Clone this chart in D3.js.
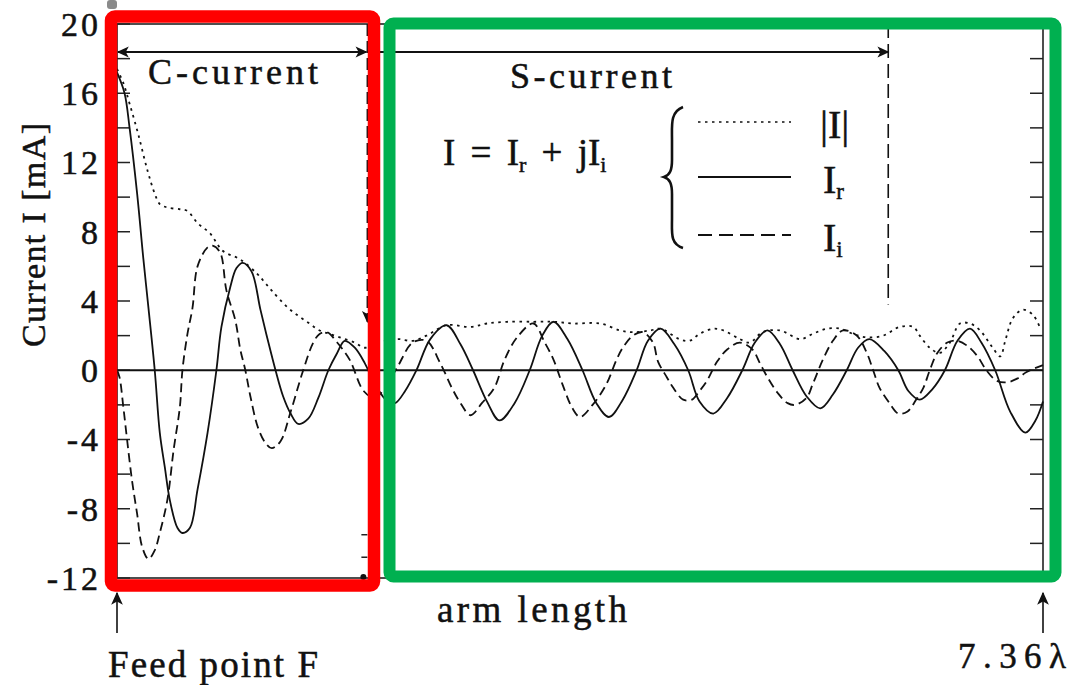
<!DOCTYPE html>
<html>
<head>
  <style>
  body {
    margin: 0;
    background: #fff;
  }
  svg text {
    font-family: "Liberation Serif", "Times New Roman", Times, serif;
    fill: #111;
    stroke: #111;
    stroke-width: 0.5px;
  }
  .curve {
    fill: none;
    stroke: #111;
    stroke-width: 1.8px;
  }
  </style>
</head>
<body>
  <script src="https://d3js.org/d3.v7.min.js"></script>
  <script>
  // arm position in wavelengths, current in mA
  var realCurrent = [
    [0,17.2],[0.06,16.0],[0.10,14.0],[0.16,10.2],[0.21,6.4],[0.25,3.6],[0.30,0],[0.34,-3.6],
    [0.38,-5.6],[0.42,-7.5],[0.48,-9.1],[0.52,-9.4],[0.58,-9.1],[0.64,-6.9],[0.72,-3.6],[0.79,0],
    [0.83,2.5],[0.90,4.8],[0.95,5.9],[1.00,6.2],[1.07,5.7],[1.14,3.5],[1.20,1.7],[1.26,0],
    [1.32,-1.5],[1.38,-2.5],[1.44,-3.1],[1.52,-2.8],[1.60,-1.6],[1.68,0],[1.75,1.0],[1.81,1.7],
    [1.89,1.3],[1.97,0.4],[2.05,-0.8],[2.15,-1.8],[2.21,-1.9],[2.29,-1.2],[2.38,0],[2.49,1.8],
    [2.62,2.6],[2.73,1.5],[2.83,0],[2.94,-1.8],[3.04,-2.9],[3.16,-1.9],[3.28,0],[3.38,2.0],
    [3.47,2.8],[3.58,1.8],[3.70,0],[3.81,-1.9],[3.91,-2.7],[4.02,-1.7],[4.13,0],[4.22,1.7],
    [4.32,2.4],[4.43,1.5],[4.54,0],[4.63,-1.8],[4.74,-2.5],[4.85,-1.6],[4.97,0],[5.07,1.6],
    [5.17,2.3],[5.27,1.5],[5.37,0],[5.48,-1.5],[5.59,-2.2],[5.69,-1.4],[5.80,0],[5.89,1.3],
    [5.98,1.8],[6.10,1.1],[6.21,0],[6.29,-1.2],[6.38,-1.7],[6.48,-1.1],[6.58,0],[6.68,1.7],
    [6.78,2.4],[6.87,1.6],[6.98,0],[7.10,-2.4],[7.22,-3.6],[7.30,-2.9],[7.36,-1.8]
  ];

  var imagCurrent = [
    [0,0],[0.02,-0.4],[0.05,-2.1],[0.08,-4.0],[0.12,-6.4],[0.16,-8.3],[0.20,-10.2],[0.25,-10.9],
    [0.30,-10.4],[0.34,-9.4],[0.40,-7.5],[0.45,-4.6],[0.50,-2.1],[0.52,0],[0.56,2.1],[0.60,3.6],
    [0.64,6.0],[0.72,7.1],[0.76,7.2],[0.82,6.8],[0.87,4.6],[0.94,2.9],[0.98,1.2],[1.02,0],
    [1.06,-1.5],[1.12,-3.3],[1.18,-4.2],[1.23,-4.5],[1.30,-4.1],[1.38,-2.4],[1.48,0],[1.56,1.6],
    [1.61,2.1],[1.67,2.2],[1.75,1.6],[1.85,0.6],[1.96,-1.2],[2.05,-1.6],[2.13,-1.0],[2.23,0.2],
    [2.35,1.6],[2.46,1.7],[2.57,0.4],[2.66,-1.0],[2.73,-1.9],[2.81,-2.6],[2.90,-1.9],[3.00,-1.0],
    [3.08,0.6],[3.18,1.9],[3.31,2.7],[3.40,1.6],[3.47,0.6],[3.54,-0.8],[3.62,-2.2],[3.68,-2.7],
    [3.78,-2.0],[3.89,-0.8],[3.97,0.6],[4.02,1.3],[4.10,2.0],[4.18,2.2],[4.26,1.6],[4.30,0.5],
    [4.37,-0.4],[4.42,-1.0],[4.50,-1.7],[4.57,-1.7],[4.63,-1.2],[4.69,-0.6],[4.77,0.5],[4.85,1.2],
    [4.95,1.6],[5.05,1.2],[5.11,0.4],[5.17,-0.4],[5.25,-1.3],[5.33,-1.9],[5.39,-2.0],[5.48,-1.6],
    [5.53,-0.8],[5.61,0.6],[5.69,1.7],[5.77,2.3],[5.88,2.0],[5.96,1.0],[6.01,0],[6.06,-1.0],
    [6.14,-1.9],[6.21,-2.5],[6.28,-2.4],[6.36,-1.6],[6.41,-1.0],[6.46,0],[6.52,1.0],[6.60,1.6],
    [6.68,1.7],[6.76,1.4],[6.84,0.8],[6.91,0],[6.99,-0.6],[7.07,-0.7],[7.15,-0.5],[7.23,-0.1],
    [7.36,0.3]
  ];

  var absCurrent = [
    [0,17.4],[0.05,16.6],[0.10,15.4],[0.17,13.6],[0.24,11.6],[0.30,10.2],[0.34,9.6],[0.40,9.4],
    [0.50,9.3],[0.56,9.2],[0.64,8.5],[0.74,7.9],[0.84,6.9],[0.98,6.4],[1.11,5.6],[1.16,5.2],
    [1.23,4.6],[1.36,3.6],[1.45,3.1],[1.53,2.7],[1.61,2.3],[1.69,2.1],[1.77,1.9],[1.89,1.6],
    [1.97,1.3],[2.09,1.6],[2.23,1.8],[2.35,1.7],[2.46,2.0],[2.62,2.6],[2.81,2.5],[2.94,2.7],
    [3.10,2.8],[3.31,2.8],[3.47,2.8],[3.62,2.7],[3.84,2.7],[4.00,2.3],[4.10,2.2],[4.24,2.3],
    [4.32,2.4],[4.47,1.8],[4.55,1.7],[4.63,2.1],[4.74,2.4],[4.82,2.3],[4.95,1.8],[5.03,1.6],
    [5.13,2.2],[5.27,2.3],[5.43,1.8],[5.53,2.1],[5.64,2.4],[5.75,2.4],[5.85,2.1],[5.96,1.9],
    [6.09,2.0],[6.22,2.5],[6.33,2.5],[6.38,2.0],[6.46,1.3],[6.54,1.0],[6.62,1.6],[6.70,2.7],
    [6.78,2.7],[6.86,2.3],[6.96,1.3],[7.02,0.8],[7.06,1.7],[7.12,3.0],[7.20,3.5],[7.28,3.2],
    [7.34,2.4]
  ];

  var yTicks = [-12, -8, -4, 0, 4, 8, 12, 16, 20];
  var yMinorTicks = [-12, -10, -8, -6, -4, -2, 0, 2, 4, 6, 8, 10, 12, 14, 16, 18, 20];
  var armEnd = 7.36;       // end of arm, in wavelengths
  var cBoundary = 1.99;    // end of the C-current region
  var sBoundary = 6.13;    // end of the S-current arrow

  var W = 1074, H = 685;
  var margin = {top: 24, left: 117, right: 31, bottom: 107};

  var svg = d3.select("body").append("svg")
      .attr("width", W)
      .attr("height", H);

  var x = d3.scaleLinear()
    .domain([0, armEnd])
    .range([margin.left, W - margin.right]);

  var y = d3.scaleLinear()
    .domain([-12, 20])
    .range([H - margin.bottom, margin.top]);

  var defs = svg.append("defs");
  [{id: "head", w: 18, h: 12}, {id: "headBig", w: 16, h: 13}].forEach(function(m){
    defs.append("marker")
        .attr("id", m.id)
        .attr("viewBox", "0 0 10 10")
        .attr("refX", 9).attr("refY", 5)
        .attr("markerWidth", m.w).attr("markerHeight", m.h)
        .attr("markerUnits", "userSpaceOnUse")
        .attr("orient", "auto-start-reverse")
      .append("path")
        .attr("d", "M0,0.5 L10,5 L0,9.5 L2.5,5 Z")
        .attr("fill", "#111");
  });

  // frame
  var x0 = x(0), x1 = x(armEnd), yTop = y(20), yBot = y(-12);
  svg.append("rect")
      .attr("x", x0).attr("y", yTop)
      .attr("width", x1 - x0).attr("height", yBot - yTop)
      .attr("fill", "none").attr("stroke", "#222").attr("stroke-width", 1.6);

  // ticks inside, left and right
  svg.selectAll(".ltick").data(yMinorTicks).enter().append("line")
      .attr("x1", x0).attr("x2", x0 + 13)
      .attr("y1", d => y(d)).attr("y2", d => y(d))
      .attr("stroke", "#222").attr("stroke-width", 1.5);
  svg.selectAll(".rtick").data(yMinorTicks).enter().append("line")
      .attr("x1", x1).attr("x2", x1 - 13)
      .attr("y1", d => y(d)).attr("y2", d => y(d))
      .attr("stroke", "#222").attr("stroke-width", 1.5);

  svg.selectAll(".ylab").data(yTicks).enter().append("text")
      .attr("x", 101)
      .attr("y", d => y(d))
      .attr("dy", "0.35em")
      .attr("text-anchor", "end")
      .style("font-size", "34px")
      .style("letter-spacing", "3px")
      .text(d => d);

  svg.append("text")
      .attr("transform", "translate(45," + 235 + ") rotate(-90)")
      .attr("text-anchor", "middle")
      .attr("textLength", 224)
      .attr("lengthAdjust", "spacing")
      .style("font-size", "34px")
      .text("Current I [mA]");

  // zero line
  svg.append("line")
      .attr("x1", x0).attr("x2", x1)
      .attr("y1", y(0)).attr("y2", y(0))
      .attr("stroke", "#111").attr("stroke-width", 2);

  // curves
  var line = d3.line()
    .x(d => x(d[0]))
    .y(d => y(d[1]))
    .curve(d3.curveCatmullRom.alpha(0.5));

  svg.append("path").datum(absCurrent)
      .attr("class", "curve")
      .attr("stroke-dasharray", "2.5,4.5")
      .attr("d", line);
  svg.append("path").datum(imagCurrent)
      .attr("class", "curve")
      .attr("stroke-dasharray", "9,5")
      .attr("d", line);
  svg.append("path").datum(realCurrent)
      .attr("class", "curve")
      .attr("d", line);

  // region annotations
  var arrowY = 52;
  svg.append("line")
      .attr("x1", x(0) + 1).attr("x2", x(cBoundary) - 1)
      .attr("y1", arrowY).attr("y2", arrowY)
      .attr("stroke", "#111").attr("stroke-width", 1.8)
      .attr("marker-start", "url(#head)")
      .attr("marker-end", "url(#head)");
  svg.append("line")
      .attr("x1", x(cBoundary)).attr("x2", x(sBoundary))
      .attr("y1", arrowY).attr("y2", arrowY)
      .attr("stroke", "#111").attr("stroke-width", 1.8)
      .attr("marker-end", "url(#head)");
  svg.append("line")
      .attr("x1", x(cBoundary)).attr("x2", x(cBoundary))
      .attr("y1", yTop).attr("y2", y(2.8))
      .attr("stroke", "#111").attr("stroke-width", 1.6)
      .attr("stroke-dasharray", "12,5")
      .attr("marker-end", "url(#head)");
  svg.append("line")
      .attr("x1", x(sBoundary)).attr("x2", x(sBoundary))
      .attr("y1", yTop).attr("y2", y(3.8))
      .attr("stroke", "#111").attr("stroke-width", 1.6)
      .attr("stroke-dasharray", "14,6");

  // small marks at the bottom of the C-current boundary
  svg.append("circle")
      .attr("cx", x(cBoundary) - 4).attr("cy", yBot - 1)
      .attr("r", 3).attr("fill", "#111");
  [-9.5, -10.8].forEach(function(v){
    svg.append("line")
        .attr("x1", x(cBoundary) - 6).attr("x2", x(cBoundary))
        .attr("y1", y(v)).attr("y2", y(v))
        .attr("stroke", "#222").attr("stroke-width", 1.5);
  });

  svg.append("text")
      .attr("x", 148).attr("y", 84)
      .attr("textLength", 170).attr("lengthAdjust", "spacing")
      .style("font-size", "36px")
      .text("C-current");
  svg.append("text")
      .attr("x", 510).attr("y", 88)
      .attr("textLength", 162).attr("lengthAdjust", "spacing")
      .style("font-size", "36px")
      .text("S-current");

  // legend
  var eq = svg.append("text")
      .attr("x", 443).attr("y", 165)
      .attr("xml:space", "preserve")
      .style("font-size", "37px")
      .style("word-spacing", "6px");
  eq.append("tspan").text("I = I");
  eq.append("tspan").attr("dy", 7).style("font-size", "22px").text("r");
  eq.append("tspan").attr("dy", -7).text(" + jI");
  eq.append("tspan").attr("dy", 7).style("font-size", "22px").text("i");

  svg.append("path")
      .attr("d", "M683,107 C670,112 672,125 672,140 L672,160 C672,170 670,175 664,177 C670,179 672,184 672,194 L672,218 C672,233 670,244 683,248")
      .attr("fill", "none").attr("stroke", "#111").attr("stroke-width", 2.6);

  var legend = [
    {y: 122, dash: "2.5,4.5", main: "|I|", sub: ""},
    {y: 177, dash: null, main: "I", sub: "r"},
    {y: 235, dash: "14,7", main: "I", sub: "i"}
  ];
  legend.forEach(function(d){
    svg.append("line")
        .attr("x1", 698).attr("x2", 791)
        .attr("y1", d.y).attr("y2", d.y)
        .attr("stroke", "#111").attr("stroke-width", d.dash === "2.5,4.5" ? 1.6 : 2)
        .attr("stroke-dasharray", d.dash);
    var t = svg.append("text")
        .attr("x", d.main === "|I|" ? 820 : 823)
        .attr("y", d.y + 16)
        .style("font-size", "40px");
    t.append("tspan").text(d.main);
    if (d.sub) t.append("tspan").attr("dy", 6).style("font-size", "23px").text(d.sub);
  });

  // bottom labels
  [0, armEnd].forEach(function(v){
    svg.append("line")
        .attr("x1", x(v)).attr("x2", x(v))
        .attr("y1", 633).attr("y2", 593)
        .attr("stroke", "#111").attr("stroke-width", 1.6)
        .attr("marker-end", "url(#headBig)");
  });
  svg.append("text")
      .attr("x", 437).attr("y", 622)
      .attr("textLength", 190).attr("lengthAdjust", "spacing")
      .style("font-size", "37px")
      .text("arm length");
  svg.append("text")
      .attr("x", 108).attr("y", 677)
      .attr("textLength", 210).attr("lengthAdjust", "spacing")
      .style("font-size", "37px")
      .text("Feed point F");
  svg.append("text")
      .attr("x", 958).attr("y", 668)
      .attr("textLength", 108).attr("lengthAdjust", "spacing")
      .style("font-size", "35px")
      .text("7.36λ");

  // highlight boxes
  svg.append("rect")
      .attr("x", 111).attr("y", 16.5)
      .attr("width", 263).attr("height", 569)
      .attr("rx", 4)
      .attr("fill", "none").attr("stroke", "#ff0000").attr("stroke-width", 12.5);
  svg.append("rect")
      .attr("x", 389.5).attr("y", 23.5)
      .attr("width", 666).attr("height", 553)
      .attr("rx", 4)
      .attr("fill", "none").attr("stroke", "#00b050").attr("stroke-width", 12);

  svg.append("rect")
      .attr("x", 107).attr("y", 0)
      .attr("width", 10).attr("height", 9)
      .attr("rx", 3)
      .attr("fill", "#8a8a8a");
  </script>
</body>
</html>
